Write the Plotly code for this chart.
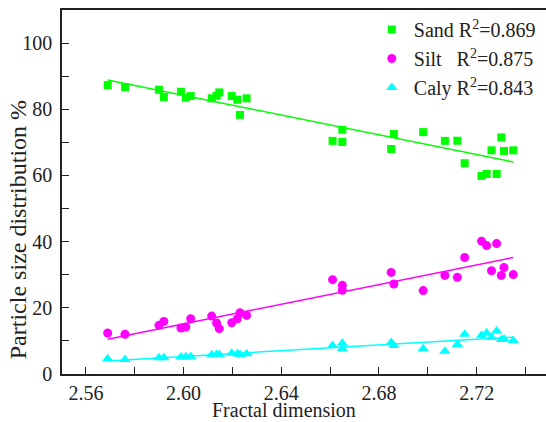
import numpy as np
import plotly.graph_objects as go

# Fractal dimension of each sample (shared x values)
fractal_dim = [2.5689, 2.5760, 2.5899, 2.5919, 2.5989, 2.6009, 2.6029, 2.6115, 2.6135, 2.6146,
               2.6197, 2.6220, 2.6231, 2.6258,
               2.6610, 2.6650, 2.6650, 2.6850, 2.6861, 2.6981, 2.7070, 2.7121, 2.7151, 2.7220,
               2.7241, 2.7261, 2.7282, 2.7301, 2.7312, 2.7350]

sand = [87.3, 86.7, 85.9, 83.7, 85.3, 83.5, 84.0, 83.3, 84.1, 85.1, 84.0, 82.9, 78.3, 83.3,
        70.45, 73.8, 70.1, 68.0, 72.5, 73.1, 70.45, 70.5, 63.7, 59.85, 60.45, 67.6, 60.45,
        71.5, 67.4, 67.6]

silt = [12.4, 12.0, 14.7, 15.9, 13.9, 14.2, 16.7, 17.5, 15.4, 13.7, 15.5, 16.7, 18.5, 17.7,
        28.5, 26.8, 25.3, 30.7, 27.2, 25.2, 29.8, 29.2, 35.2, 40.15, 38.8, 31.2, 39.4,
        29.8, 32.2, 30.05]

caly = [4.6, 4.4, 4.9, 4.9, 5.1, 5.2, 5.2, 5.8, 5.9, 5.9, 6.3, 6.1, 5.9, 6.1,
        8.6, 9.3, 7.6, 9.5, 8.6, 7.6, 6.9, 8.9, 12.0, 11.7, 12.4, 11.0, 13.0,
        10.4, 10.6, 10.15]

series_names = ["Sand R<sup>2</sup>=0.869",
                "Silt\u00a0\u00a0\u00a0R<sup>2</sup>=0.875",
                "Caly R<sup>2</sup>=0.843"]
series_colors = ["#00FF00", "#FF00FF", "#00FFFF"]
series_symbols = ["square", "circle", "triangle-up"]
series_sizes = [8, 9, 10]

x_ticks = [2.56, 2.60, 2.64, 2.68, 2.72]
y_ticks = [0, 20, 40, 60, 80, 100]

FONT = "Liberation Serif, Times New Roman, serif"

fig = go.Figure()
xs = np.array(fractal_dim)
for vals, name, col, sym, sz in zip([sand, silt, caly], series_names, series_colors,
                                    series_symbols, series_sizes):
    ys = np.array(vals)
    k, b = np.polyfit(xs, ys, 1)
    xl = np.array([xs.min(), xs.max()])
    fig.add_trace(go.Scatter(x=xl, y=k * xl + b, mode="lines",
                             line=dict(color=col, width=1.5), showlegend=False,
                             hoverinfo="skip"))
for vals, name, col, sym, sz in zip([sand, silt, caly], series_names, series_colors,
                                    series_symbols, series_sizes):
    fig.add_trace(go.Scatter(x=fractal_dim, y=vals, mode="markers", name=name,
                             marker=dict(color=col, symbol=sym, size=sz, line=dict(width=0))))

axis_common = dict(showgrid=False, zeroline=False, showline=True, linecolor="#222",
                   linewidth=1.5, ticks="inside", ticklen=7, tickwidth=1, tickcolor="#222",
                   tickfont=dict(family=FONT, size=20, color="#222"))

fig.update_xaxes(range=[2.5502, 2.7484], tickvals=x_ticks,
                 ticktext=[f"{v:.2f}" for v in x_ticks], mirror=True,
                 minor=dict(dtick=0.02, tick0=2.56, ticks="inside", ticklen=7,
                            tickcolor="#222", tickwidth=1),
                 **axis_common)
fig.update_yaxes(range=[0, 110], tickvals=y_ticks, mirror=False,
                 minor=dict(dtick=10, tick0=0, ticks="inside", ticklen=7,
                            tickcolor="#222", tickwidth=1),
                 ticklabelstandoff=4,
                 **axis_common)

fig.update_layout(
    width=546, height=422,
    margin=dict(l=62, r=0, t=10, b=48),
    plot_bgcolor="white", paper_bgcolor="white",
    font=dict(family=FONT, size=20, color="#222"),
    legend=dict(x=0.636, y=1.0, xanchor="left", yanchor="top", itemwidth=34,
                bgcolor="rgba(0,0,0,0)", borderwidth=0,
                font=dict(family=FONT, size=20, color="#222")),
    annotations=[
        dict(text="Fractal dimension", x=0.4587, y=-0.1, xref="paper", yref="paper",
             xanchor="center", yanchor="middle", showarrow=False,
             font=dict(family=FONT, size=20, color="#222")),
        dict(text="Particle size distribution %", x=-0.0909, y=0.395, xref="paper",
             yref="paper", xanchor="center", yanchor="middle", textangle=-90,
             showarrow=False, font=dict(family=FONT, size=24, color="#222")),
    ],
)

fig.write_html("out.html", config={"displayModeBar": False},
               post_script="document.body.style.margin='0';document.body.style.overflow='hidden';")
